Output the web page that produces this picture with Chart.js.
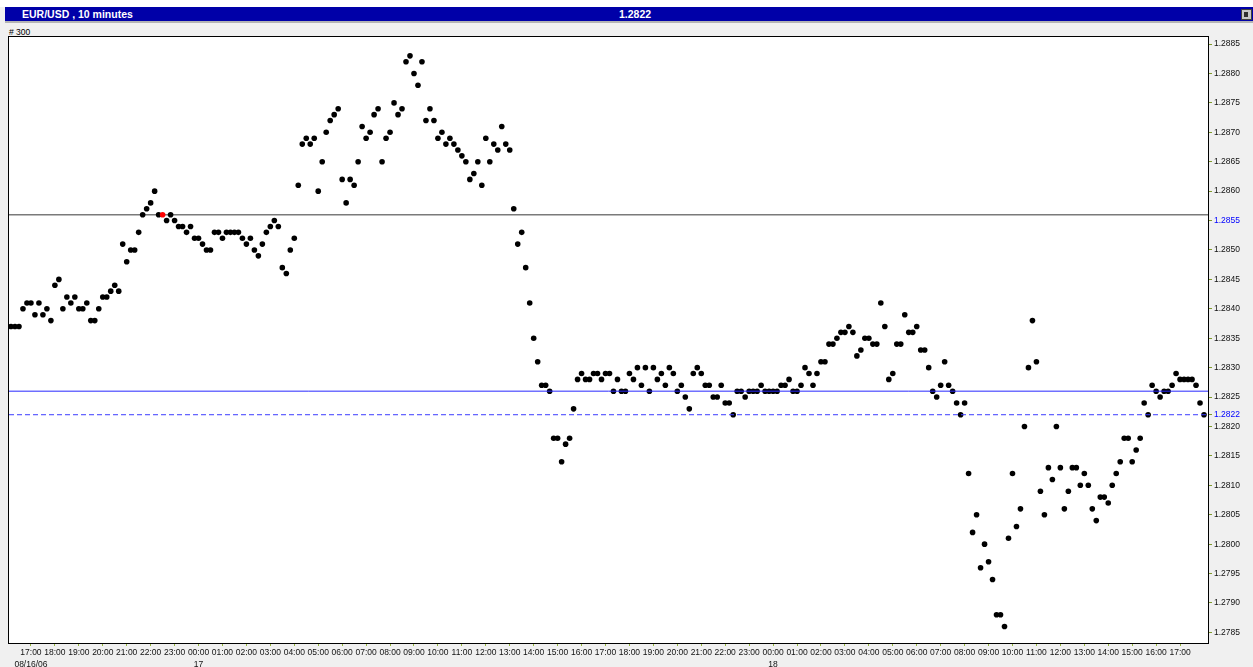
<!DOCTYPE html>
<html>
<head>
<meta charset="utf-8">
<script src="https://cdn.jsdelivr.net/npm/chart.js@4.4.1/dist/chart.umd.min.js"></script>
<style>
  html, body { margin: 0; padding: 0; }
  body { width: 1253px; height: 667px; overflow: hidden; background: #f0f0f0; position: relative;
         font-family: "Liberation Sans", Arial, sans-serif; }
  #topstrip { position: absolute; left: 0; top: 0; width: 1253px; height: 7px; background: #ffffff; }
  #titlebar { position: absolute; left: 5px; top: 7px; width: 1248px; height: 14px; background: #0000a8; }
  #shadow { position: absolute; left: 5px; top: 21px; width: 1248px; height: 2px; background: #b4b4b4; }
  #title { position: absolute; left: 17px; top: 0px; line-height: 14px; font-size: 10.5px; font-weight: bold; color: #fff; }
  #last { position: absolute; left: 614px; top: 0px; line-height: 14px; font-size: 10.5px; font-weight: bold; color: #fff; }
  #icon { position: absolute; left: 1236px; top: 2px; width: 9px; height: 9px; background: #c8c8c8; border: 1px solid #404040; }
  #icon div { position: absolute; left: 2px; top: 2px; width: 4px; height: 5px; background: #303030; }
  #count { position: absolute; left: 9px; top: 27px; font-size: 8.5px; color: #000; }
  #c { position: absolute; left: 0; top: 0; }
</style>
</head>
<body>
<div id="topstrip"></div>
<div id="titlebar"><span id="title">EUR/USD , 10 minutes</span><span id="last">1.2822</span><div id="icon"><div></div></div></div>
<div id="shadow"></div>
<div id="count"># 300</div>
<canvas id="c" width="1253" height="667"></canvas>
<script>
// ---- data: EUR/USD 10-minute closes, first bar 08/16/06 16:10 ----
const aug16 = [1.2837,1.2837,1.2837,1.2840,1.2841,1.2841,1.2839,1.2841,1.2839,1.2840,
  1.2838,1.2844,1.2845,1.2840,1.2842,1.2841,1.2842,1.2840,1.2840,1.2841,
  1.2838,1.2838,1.2840,1.2842,1.2842,1.2843,1.2844,1.2843,1.2851,1.2848,
  1.2850,1.2850,1.2853,1.2856,1.2857,1.2858,1.2860,1.2856,1.2856,1.2855,
  1.2856,1.2855,1.2854,1.2854,1.2853,1.2854,1.2852];
const aug17 = [1.2852,1.2851,1.2850,1.2850,1.2853,1.2853,1.2852,1.2853,1.2853,1.2853,
  1.2853,1.2852,1.2851,1.2852,1.2850,1.2849,1.2851,1.2853,1.2854,1.2855,
  1.2854,1.2847,1.2846,1.2850,1.2852,1.2861,1.2868,1.2869,1.2868,1.2869,
  1.2860,1.2865,1.2870,1.2872,1.2873,1.2874,1.2862,1.2858,1.2862,1.2861,
  1.2865,1.2871,1.2869,1.2870,1.2873,1.2874,1.2865,1.2869,1.2870,1.2875,
  1.2873,1.2874,1.2882,1.2883,1.2880,1.2878,1.2882,1.2872,1.2874,1.2872,
  1.2869,1.2870,1.2868,1.2869,1.2868,1.2867,1.2866,1.2865,1.2862,1.2863,
  1.2865,1.2861,1.2869,1.2865,1.2868,1.2867,1.2871,1.2868,1.2867,1.2857,
  1.2851,1.2853,1.2847,1.2841,1.2835,1.2831,1.2827,1.2827,1.2826,1.2818,
  1.2818,1.2814,1.2817,1.2818,1.2823,1.2828,1.2829,1.2828,1.2828,1.2829,
  1.2829,1.2828,1.2829,1.2829,1.2826,1.2828,1.2826,1.2826,1.2829,1.2828,
  1.2830,1.2827,1.2830,1.2826,1.2830,1.2828,1.2829,1.2827,1.2830,1.2829,
  1.2826,1.2827,1.2825,1.2823,1.2829,1.2830,1.2829,1.2827,1.2827,1.2825,
  1.2825,1.2827,1.2824,1.2824,1.2822,1.2826,1.2826,1.2825,1.2826,1.2826,
  1.2826,1.2827,1.2826,1.2826];
const aug18 = [1.2826,1.2826,1.2827,1.2827,1.2828,1.2826,1.2826,1.2827,1.2830,1.2829,
  1.2827,1.2829,1.2831,1.2831,1.2834,1.2834,1.2835,1.2836,1.2836,1.2837,
  1.2836,1.2832,1.2833,1.2835,1.2835,1.2834,1.2834,1.2841,1.2837,1.2828,
  1.2829,1.2834,1.2834,1.2839,1.2836,1.2836,1.2837,1.2833,1.2833,1.2830,
  1.2826,1.2825,1.2827,1.2831,1.2827,1.2826,1.2824,1.2822,1.2824,1.2812,
  1.2802,1.2805,1.2796,1.2800,1.2797,1.2794,1.2788,1.2788,1.2786,1.2801,
  1.2812,1.2803,1.2806,1.2820,1.2830,1.2838,1.2831,1.2809,1.2805,1.2813,
  1.2811,1.2820,1.2813,1.2806,1.2809,1.2813,1.2813,1.2810,1.2812,1.2810,
  1.2806,1.2804,1.2808,1.2808,1.2807,1.2810,1.2812,1.2814,1.2818,1.2818,
  1.2814,1.2816,1.2818,1.2824,1.2822,1.2827,1.2826,1.2825,1.2826,1.2826,
  1.2827,1.2829,1.2828,1.2828,1.2828,1.2828,1.2827,1.2824,1.2822];

// horizontal reference levels
const grayLevel = [1.2856];
const blueLevel = [1.2826];
const lastLevel = [1.2822];
const markedBar = [38];

// tick labels
const hourLabels = ['17:00','18:00','19:00','20:00','21:00','22:00','23:00',
  '00:00','01:00','02:00','03:00','04:00','05:00','06:00','07:00','08:00','09:00','10:00','11:00',
  '12:00','13:00','14:00','15:00','16:00','17:00','18:00','19:00','20:00','21:00','22:00','23:00',
  '00:00','01:00','02:00','03:00','04:00','05:00','06:00','07:00','08:00','09:00','10:00','11:00',
  '12:00','13:00','14:00','15:00','16:00','17:00'];
const dateMarks = [[0,'08/16/06'],[7,'17'],[31,'18']];
const firstHourBar = 5;   // 16:10 + 5 bars = 17:00
const barsPerHour = 6;
const yTickValues = [1.2785,1.2790,1.2795,1.2800,1.2805,1.2810,1.2815,1.2820,1.2822,1.2825,1.2830,1.2835,
  1.2840,1.2845,1.2850,1.2855,1.2860,1.2865,1.2870,1.2875,1.2880,1.2885];
const blueTickValues = [1.2855,1.2822];

// ---- build ----
const closes = aug16.concat(aug17, aug18);
const points = closes.map((v, i) => ({ x: i, y: v }));
const xMin = -0.5, xMax = 300;
const hourTickMap = {};
hourLabels.forEach((lab, k) => {
  const dm = dateMarks.find(d => d[0] === k);
  hourTickMap[firstHourBar + k * barsPerHour] = dm ? [lab, dm[1]] : lab;
});
const levelLine = (lvl, color, dash, width) => ({
  type: 'line', data: [{ x: xMin, y: lvl }, { x: xMax, y: lvl }],
  borderColor: color, borderWidth: width, borderDash: dash, pointRadius: 0, fill: false
});

const bgPlugin = {
  id: 'bg',
  beforeDraw(chart) {
    const a = chart.chartArea, c = chart.ctx;
    c.save(); c.fillStyle = '#ffffff'; c.fillRect(a.left, a.top, a.right - a.left, a.bottom - a.top); c.restore();
  },
  afterDraw(chart) {
    const a = chart.chartArea, c = chart.ctx;
    c.save(); c.strokeStyle = '#000000'; c.lineWidth = 1;
    c.strokeRect(a.left - 0.5, a.top - 0.5, a.right - a.left + 1, a.bottom - a.top + 1);
    c.restore();
  }
};

const isBlue = v => blueTickValues.some(b => Math.abs(b - v) < 1e-7);

new Chart(document.getElementById('c'), {
  type: 'scatter',
  data: {
    datasets: [
      levelLine(lastLevel[0], '#3c3cff', [5, 3], 1),
      levelLine(blueLevel[0], '#2828ff', [], 1),
      {
        data: points, showLine: false,
        pointRadius: 2.8, pointBorderWidth: 0,
        pointBackgroundColor: ctx => markedBar.includes(ctx.dataIndex) ? '#ff0000' : '#000000',
        pointBorderColor: ctx => markedBar.includes(ctx.dataIndex) ? '#ff0000' : '#000000'
      },
      levelLine(grayLevel[0], '#7a7a7a', [], 1.6)
    ]
  },
  options: {
    responsive: false, animation: false, events: [],
    layout: { padding: { left: 9, top: 37, right: 0, bottom: 0 } },
    plugins: { legend: { display: false }, tooltip: { enabled: false } },
    scales: {
      x: {
        type: 'linear', min: xMin, max: xMax,
        afterFit(s) { s.height = 24; },
        afterBuildTicks(s) { s.ticks = Object.keys(hourTickMap).map(k => ({ value: Number(k) })); },
        grid: { drawOnChartArea: false, drawTicks: true, tickLength: 3, color: '#95b83c' },
        border: { display: true, color: '#000' },
        ticks: {
          autoSkip: false, maxRotation: 0, minRotation: 0, padding: 0,
          font: { family: '"Liberation Sans", Arial, sans-serif', size: 8.5, lineHeight: 1.5 },
          color: '#111',
          callback: v => hourTickMap[v] || ''
        }
      },
      y: {
        type: 'linear', position: 'right', min: 1.27832, max: 1.28862,
        afterFit(s) { s.width = 45; },
        afterBuildTicks(s) { s.ticks = yTickValues.map(v => ({ value: v })); },
        grid: { drawOnChartArea: false, drawTicks: true, tickLength: 4, color: '#7f9a2a' },
        border: { display: true, color: '#000' },
        ticks: {
          autoSkip: false, padding: 2,
          font: { family: '"Liberation Sans", Arial, sans-serif', size: 8.5 },
          color: ctx => isBlue(ctx.tick.value) ? '#0000ff' : '#111',
          callback: v => v.toFixed(4)
        }
      }
    }
  },
  plugins: [bgPlugin]
});
</script>
</body>
</html>
